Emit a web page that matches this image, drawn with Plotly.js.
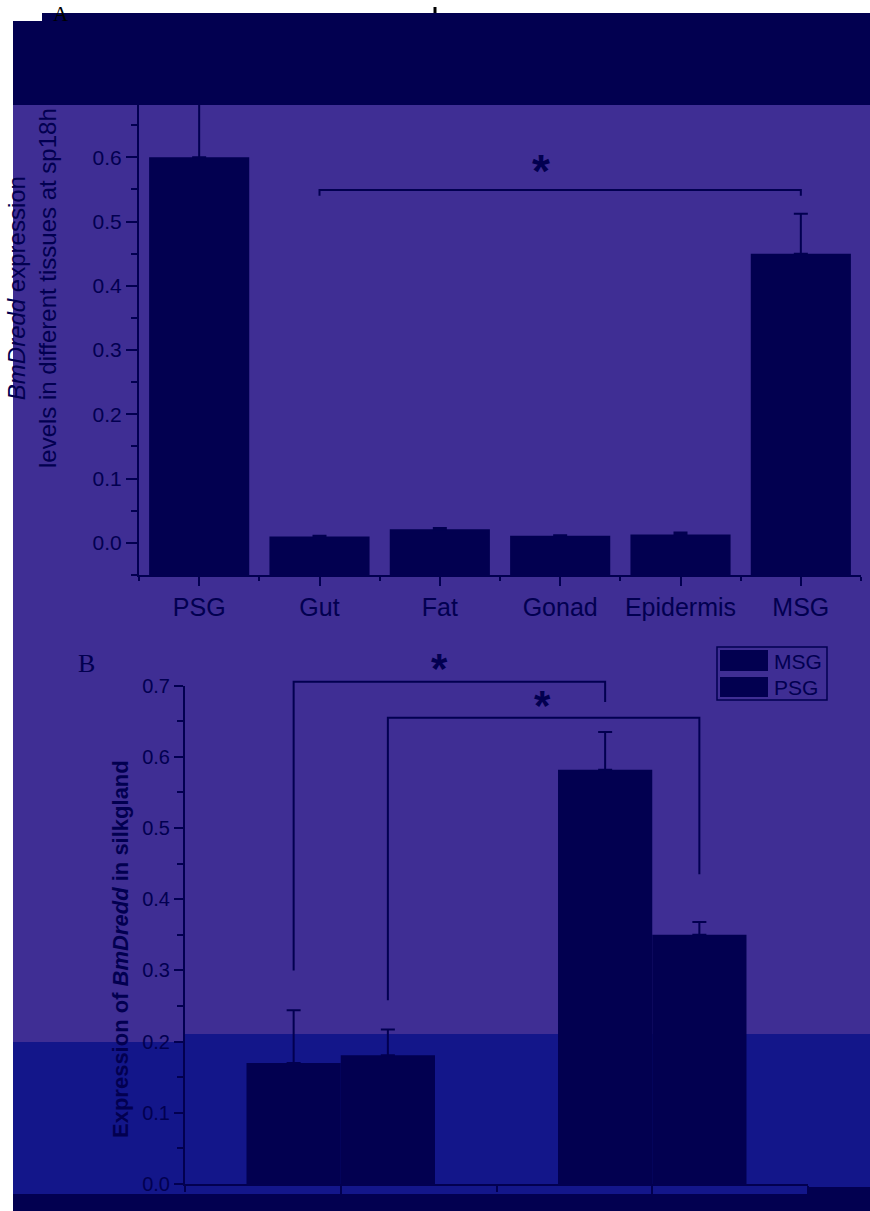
<!DOCTYPE html>
<html><head><meta charset="utf-8">
<script src="https://cdn.plot.ly/plotly-3.0.1.min.js"></script>
<style>html,body{margin:0;padding:0;background:#fff;} #chart{width:870px;height:1211px;}</style>
</head><body><div id="chart"></div>
<script>
// ---- data (panel A: tissues at sp18h) ----
const tissues = ['PSG', 'Gut', 'Fat', 'Gonad', 'Epidermis', 'MSG'];
const tissueExpr = [0.600, 0.010, 0.021, 0.011, 0.013, 0.450];
const tissueErr = [0.100, 0.001, 0.002, 0.001, 0.003, 0.062];

// ---- data (panel B: silk gland, two unlabeled conditions) ----
const silkGroups = ['', ''];
const seriesNames = ['MSG', 'PSG'];
const msgExpr = [0.170, 0.582];
const msgErr = [0.074, 0.053];
const psgExpr = [0.181, 0.350];
const psgErr = [0.036, 0.018];

// ---- styling / geometry ----
const NAVY = '#020050', PURPLE = '#3F2E94', BLUE = '#13168A';
const W = 870, H = 1211;
const px = x => x / W, py = y => 1 - y / H;
const FONT = 'Arial, "Liberation Sans", sans-serif';
const SERIF = '"Times New Roman", "Liberation Serif", serif';

const A_RANGE = [-0.05, 0.7];
const A_DOM = [py(575), py(93)];
const B_RANGE = [0, 0.7];
const B_DOM = [py(1184), py(685.7)];
const bPaper = v => B_DOM[0] + (v - B_RANGE[0]) / (B_RANGE[1] - B_RANGE[0]) * (B_DOM[1] - B_DOM[0]);
const B_GAP = 0.395;
const halfBar = (1 - B_GAP) / 4; // centre offset of each bar within a group

const idxA = tissues.map((_, i) => i);
const idxB = silkGroups.map((_, i) => i);
const zeros = a => a.map(() => 0);

const errStyle = {color: NAVY, thickness: 2, width: 7};

const traces = [
  {
    type: 'bar', x: idxA, y: tissueExpr.map(v => v - A_RANGE[0]), base: A_RANGE[0],
    width: 0.832, marker: {color: NAVY, line: {width: 0}},
    error_y: Object.assign({type: 'data', array: tissueErr, symmetric: false, arrayminus: zeros(tissueErr)}, errStyle),
    xaxis: 'x', yaxis: 'y', showlegend: false, name: 'sp18h', hoverinfo: 'skip'
  },
  {
    type: 'bar', x: idxB, y: msgExpr, name: seriesNames[0],
    marker: {color: NAVY, line: {width: 0}},
    error_y: Object.assign({type: 'data', array: msgErr, symmetric: false, arrayminus: zeros(msgErr)}, errStyle),
    xaxis: 'x2', yaxis: 'y2', showlegend: false
  },
  {
    type: 'bar', x: idxB, y: psgExpr, name: seriesNames[1],
    marker: {color: NAVY, line: {width: 0}},
    error_y: Object.assign({type: 'data', array: psgErr, symmetric: false, arrayminus: zeros(psgErr)}, errStyle),
    xaxis: 'x2', yaxis: 'y2', showlegend: false
  }
];

const axisBase = {
  showline: true, linecolor: NAVY, linewidth: 2, showgrid: false, zeroline: false,
  ticks: 'outside', tickcolor: NAVY, tickwidth: 2, fixedrange: true
};

function rect(x0, y0, x1, y1, color, layer) {
  return {type: 'rect', xref: 'paper', yref: 'paper', x0: px(x0), x1: px(x1), y0: py(y1), y1: py(y0),
          fillcolor: color, line: {width: 0}, layer: layer};
}

const shapes = [
  rect(13, 21, 870, 1211, PURPLE, 'below'),
  rect(42, 13, 870, 21, PURPLE, 'below'),
  rect(13, 1042, 183, 1195, BLUE, 'below'),
  rect(183, 1034, 870, 1195, BLUE, 'below'),
  rect(13, 21, 870, 105, NAVY, 'above'),
  rect(42, 13, 870, 21, NAVY, 'above'),
  rect(13, 1194, 807, 1211, NAVY, 'above'),
  rect(807, 1187, 870, 1211, NAVY, 'above'),
  {type: 'line', xref: 'paper', yref: 'paper', x0: px(435), x1: px(435), y0: py(13), y1: py(7),
   line: {color: '#000', width: 3}, layer: 'above'},
  // significance bracket panel A (Gut vs MSG)
  {type: 'path', xref: 'x', yref: 'y', path: 'M1,0.540 L1,0.549 L5,0.549 L5,0.540',
   line: {color: NAVY, width: 2}},
  // significance brackets panel B
  {type: 'path', xref: 'x2', yref: 'paper',
   path: `M${-halfBar},${bPaper(0.300)} L${-halfBar},${bPaper(0.7055)} L${1 - halfBar},${bPaper(0.7055)} L${1 - halfBar},${bPaper(0.677)}`,
   line: {color: NAVY, width: 2}},
  {type: 'path', xref: 'x2', yref: 'paper',
   path: `M${halfBar},${bPaper(0.258)} L${halfBar},${bPaper(0.655)} L${1 + halfBar},${bPaper(0.655)} L${1 + halfBar},${bPaper(0.435)}`,
   line: {color: NAVY, width: 2}},
  // legend panel B
  {type: 'rect', xref: 'paper', yref: 'paper', x0: px(717), x1: px(827), y0: py(700), y1: py(647),
   line: {color: NAVY, width: 1.5}, fillcolor: 'rgba(0,0,0,0)'},
  rect(720, 650, 768, 671, NAVY, 'above'),
  rect(720, 677, 768, 697, NAVY, 'above')
];

const annotations = [
  {text: '<i>BmDredd</i> expression<br>levels in different tissues at sp18h', textangle: -90,
   xref: 'paper', yref: 'paper', x: px(32), y: py(288), xanchor: 'center', yanchor: 'middle',
   showarrow: false, font: {family: FONT, size: 24, color: NAVY}},
  {text: '<b>Expression of <i>BmDredd</i> in silkgland</b>', textangle: -90,
   xref: 'paper', yref: 'paper', x: px(120), y: py(949), xanchor: 'center', yanchor: 'middle',
   showarrow: false, font: {family: FONT, size: 22, color: NAVY}},
  {text: 'A', xref: 'paper', yref: 'paper', x: px(61), y: py(0), xanchor: 'center', yanchor: 'top',
   showarrow: false, font: {family: SERIF, size: 21, color: '#000'}},
  {text: 'B', xref: 'paper', yref: 'paper', x: px(86), y: py(663), xanchor: 'center', yanchor: 'middle',
   showarrow: false, font: {family: SERIF, size: 26, color: NAVY}},
  {text: '<b>*</b>', xref: 'x', yref: 'paper', x: 2.84, y: py(171), xanchor: 'center', yanchor: 'middle',
   showarrow: false, font: {family: FONT, size: 46, color: NAVY}},
  {text: '<b>*</b>', xref: 'x2', yref: 'paper', x: 0.318, y: py(668), xanchor: 'center', yanchor: 'middle',
   showarrow: false, font: {family: FONT, size: 42, color: NAVY}},
  {text: '<b>*</b>', xref: 'x2', yref: 'paper', x: 0.649, y: py(705), xanchor: 'center', yanchor: 'middle',
   showarrow: false, font: {family: FONT, size: 42, color: NAVY}},
  {text: seriesNames[0], xref: 'paper', yref: 'paper', x: px(772), y: py(661), xanchor: 'left', yanchor: 'middle',
   showarrow: false, font: {family: FONT, size: 21, color: NAVY}},
  {text: seriesNames[1], xref: 'paper', yref: 'paper', x: px(772), y: py(687), xanchor: 'left', yanchor: 'middle',
   showarrow: false, font: {family: FONT, size: 21, color: NAVY}}
];

const layout = {
  width: W, height: H, margin: {l: 0, r: 0, t: 0, b: 0}, autosize: false,
  paper_bgcolor: '#ffffff', plot_bgcolor: 'rgba(0,0,0,0)',
  barmode: 'group', bargap: B_GAP, bargroupgap: 0, showlegend: false,
  font: {family: FONT, color: NAVY},
  xaxis: Object.assign({}, axisBase, {
    domain: [px(139), px(861)], range: [-0.5, 5.5], anchor: 'y',
    tickmode: 'array', tickvals: idxA, ticktext: tissues, ticklen: 9,
    tickfont: {family: FONT, size: 25, color: NAVY},
    minor: {tickmode: 'linear', tick0: 0.5, dtick: 1, ticks: 'outside', ticklen: 4, tickwidth: 2, tickcolor: NAVY}
  }),
  yaxis: Object.assign({}, axisBase, {
    domain: A_DOM, range: A_RANGE, anchor: 'x',
    tickmode: 'linear', tick0: 0, dtick: 0.1, tickformat: '.1f', ticklen: 11,
    tickfont: {family: FONT, size: 21, color: NAVY},
    minor: {tickmode: 'linear', tick0: 0, dtick: 0.05, ticks: 'outside', ticklen: 6, tickwidth: 2, tickcolor: NAVY}
  }),
  xaxis2: Object.assign({}, axisBase, {
    domain: [px(185), px(808)], range: [-0.5, 1.5], anchor: 'y2',
    tickmode: 'array', tickvals: idxB, ticktext: silkGroups, ticklen: 10,
    tickfont: {family: FONT, size: 20, color: NAVY},
    minor: {tickmode: 'linear', tick0: 0.5, dtick: 1, ticks: 'outside', ticklen: 6, tickwidth: 2, tickcolor: NAVY}
  }),
  yaxis2: Object.assign({}, axisBase, {
    domain: B_DOM, range: B_RANGE, anchor: 'x2',
    tickmode: 'linear', tick0: 0, dtick: 0.1, tickformat: '.1f', ticklen: 9,
    tickfont: {family: FONT, size: 20, color: NAVY},
    minor: {tickmode: 'linear', tick0: 0, dtick: 0.05, ticks: 'outside', ticklen: 6, tickwidth: 2, tickcolor: NAVY}
  }),
  shapes: shapes,
  annotations: annotations
};

Plotly.newPlot('chart', traces, layout, {displayModeBar: false, staticPlot: true});
</script>
</body></html>
